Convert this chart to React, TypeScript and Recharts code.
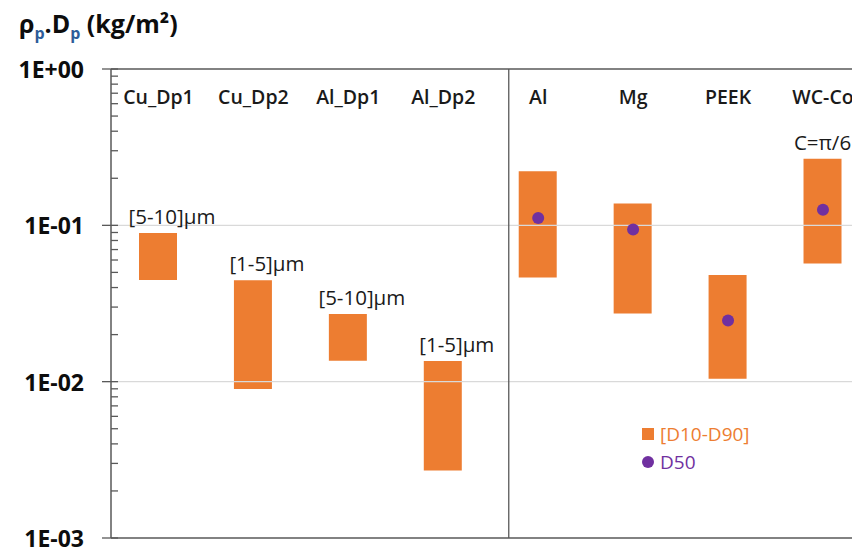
import React from 'react';
import { ComposedChart, Bar, Line, XAxis, YAxis, ReferenceLine, LabelList } from 'recharts';

const categories = ['Cu_Dp1', 'Cu_Dp2', 'Al_Dp1', 'Al_Dp2', 'Al', 'Mg', 'PEEK', 'WC-Co'];
const d10 = [0.0447, 0.00897, 0.0136, 0.0027, 0.0463, 0.0273, 0.01044, 0.0569];
const d90 = [0.0894, 0.0446, 0.0271, 0.01355, 0.222, 0.138, 0.0481, 0.267];
const d50: (number | null)[] = [null, null, null, null, 0.1115, 0.0939, 0.0246, 0.126];
const barLabels = ['[5-10]µm', '[1-5]µm', '[5-10]µm', '[1-5]µm', '', '', '', 'C=π/6'];

const majorTicks = [0.001, 0.01, 0.1, 1];
const majorTickLabels = ['1E-03', '1E-02', '1E-01', '1E+00'];
const minorTicks = [
  0.002, 0.003, 0.004, 0.005, 0.006, 0.007, 0.008, 0.009,
  0.02, 0.03, 0.04, 0.05, 0.06, 0.07, 0.08, 0.09,
  0.2, 0.3, 0.4, 0.5, 0.6, 0.7, 0.8, 0.9,
];
const allTicks = [...majorTicks, ...minorTicks].sort((a, b) => a - b);
const positions = [1, 2, 3, 4, 5, 6, 7, 8];
const xDomain = [0.5, 8.39];
const dividerX = 4.69;

const data = categories.map((c, i) => ({
  x: positions[i],
  name: c,
  range: [d10[i], d90[i]],
  d50: d50[i],
  label: barLabels[i],
}));

const FONT = '"Open Sans", "Noto Sans", sans-serif';
const AXIS = '#595959';
const ORANGE = '#ED7D31';
const PURPLE = '#7030A0';
const TICK_SIZE = 8;
const TICK_MARGIN = 8;

const YTick = (props: any) => {
  const { x, y, payload } = props;
  const ax = x + TICK_SIZE + TICK_MARGIN;
  const v = payload.value;
  const idx = majorTicks.findIndex((m) => Math.abs(m - v) / m < 1e-6);
  if (idx >= 0) {
    return (
      <g>
        <line x1={ax - 9} x2={ax + 7} y1={y} y2={y} stroke={AXIS} strokeWidth={1.3} />
        <text x={ax - 27} y={y} textAnchor="end" dominantBaseline="central" fontFamily={FONT} fontWeight={700} fontSize={23} fill="#0d0d0d">
          {majorTickLabels[idx]}
        </text>
      </g>
    );
  }
  return <line x1={ax} x2={ax + 7} y1={y} y2={y} stroke={AXIS} strokeWidth={1.3} />;
};

const CatTick = (props: any) => {
  const { x, y, payload } = props;
  const idx = positions.indexOf(payload.value);
  return (
    <text x={x} y={y + 35} textAnchor="middle" fontFamily={FONT} fontWeight={600} fontSize={19.5} fill="#1a1a1a">
      {categories[idx]}
    </text>
  );
};

const BarLabel = (props: any) => {
  const { x, y, width, height, value } = props;
  if (!value) return null;
  const top = Math.min(y, y + height);
  const dx = String(value).startsWith('[') ? 14 : 0;
  return (
    <text x={x + width / 2 + dx} y={top - 9} textAnchor="middle" fontFamily={FONT} fontWeight={500} fontSize={20.5} fill="#1a1a1a">
      {value}
    </text>
  );
};

export default function App() {
  return (
    <div style={{ position: 'relative', width: 852, height: 540 }}>
      <div style={{ position: 'absolute', left: 11, top: -2, fontFamily: FONT, fontWeight: 700, fontSize: 25, color: '#0d0d0d', whiteSpace: 'nowrap' }}>
        ρ<sub style={{ fontSize: 16, color: '#2E5C99' }}>p</sub>.D<sub style={{ fontSize: 16, color: '#2E5C99' }}>p</sub> (kg/m²)
      </div>
      <ComposedChart width={852} height={540} data={data} margin={{ top: 60, right: 0, bottom: 0, left: 0 }}>
        <XAxis dataKey="x" type="number" domain={xDomain} allowDataOverflow tick={false} tickLine={false} height={10} axisLine={{ stroke: AXIS, strokeWidth: 1.5 }} />
        <XAxis xAxisId="top" dataKey="x" orientation="top" type="number" domain={xDomain} allowDataOverflow ticks={positions} interval={0} height={1} tickSize={0} tickMargin={0} tickLine={false} tick={<CatTick />} axisLine={{ stroke: AXIS, strokeWidth: 1.5 }} />
        <YAxis type="number" scale="log" domain={[0.001, 1]} allowDataOverflow ticks={allTicks} interval={0} width={103} tickSize={TICK_SIZE} tickMargin={TICK_MARGIN} tickLine={false} tick={<YTick />} axisLine={{ stroke: AXIS, strokeWidth: 1.5 }} />
        <ReferenceLine y={0.1} stroke="#d9d9d9" strokeWidth={1.3} />
        <ReferenceLine y={0.01} stroke="#d9d9d9" strokeWidth={1.3} />
        <ReferenceLine x={dividerX} stroke={AXIS} strokeWidth={1.3} />
        <Bar dataKey="range" fill={ORANGE} barSize={38} isAnimationActive={false}>
          <LabelList dataKey="label" content={<BarLabel />} />
        </Bar>
        <Line dataKey="d50" stroke="none" dot={{ r: 6, fill: PURPLE, stroke: 'none' }} activeDot={false} isAnimationActive={false} />
      </ComposedChart>
      <div style={{ position: 'absolute', left: 634, top: 412, fontFamily: FONT, fontSize: 19 }}>
        <div style={{ display: 'flex', alignItems: 'center', color: ORANGE, height: 28 }}>
          <span style={{ display: 'inline-block', width: 12, height: 12, background: ORANGE, marginRight: 6 }} />
          [D10-D90]
        </div>
        <div style={{ display: 'flex', alignItems: 'center', color: PURPLE, height: 28 }}>
          <span style={{ display: 'inline-block', width: 12, height: 12, borderRadius: 6, background: PURPLE, marginRight: 6 }} />
          D50
        </div>
      </div>
    </div>
  );
}
